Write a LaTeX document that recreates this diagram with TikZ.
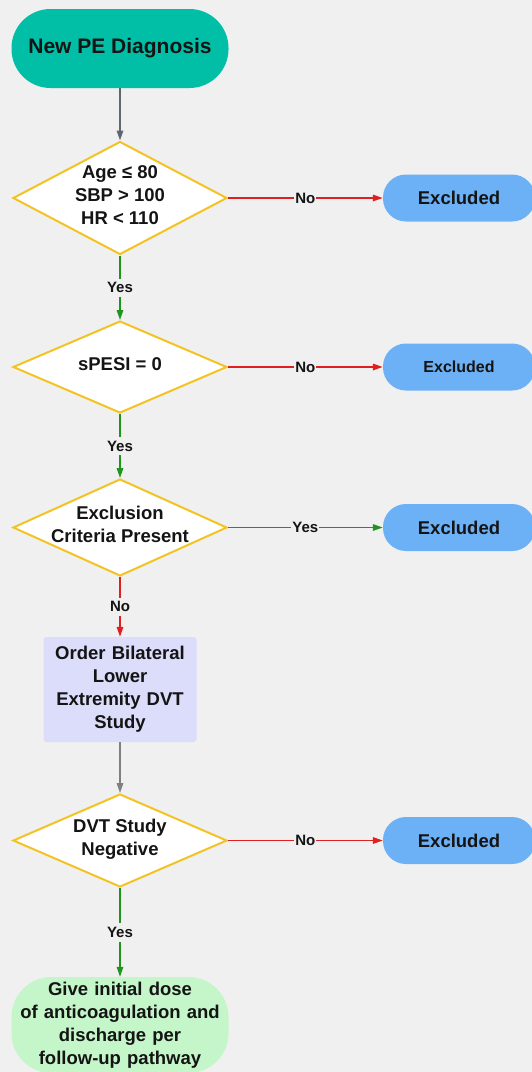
\documentclass[tikz,border=0pt]{standalone}
\usepackage{fontspec}
\setmainfont{Liberation Sans}
\usetikzlibrary{shapes,arrows.meta}
\definecolor{bggray}{HTML}{F0F0F0}
\definecolor{startteal}{HTML}{00BFA6}
\definecolor{exblue}{HTML}{6CB0F5}
\definecolor{diayellow}{HTML}{F3C323}
\definecolor{boxlav}{HTML}{DCDDFA}
\definecolor{endgreen}{HTML}{C5F6CA}
\definecolor{noRed}{HTML}{E02020}
\definecolor{yesGreen}{HTML}{1E961E}
\definecolor{lineGray}{HTML}{5E6670}
\definecolor{textBlack}{HTML}{141414}
\newcommand{\bodyfont}{\fontsize{18.5}{23}\selectfont\bfseries}
\newcommand{\bigbold}{\fontsize{21}{25}\selectfont\bfseries}
\newcommand{\smallbold}{\fontsize{16}{20}\selectfont\bfseries}
\newcommand{\lblfont}{\fontsize{15}{18}\selectfont\bfseries}
\newcommand{\dlines}[1]{\makebox[0pt]{\smash{\raisebox{-3pt}{\begin{tabular}{@{}c@{}}#1\end{tabular}}}}}
\tikzstyle{startstop} = [rectangle, rounded corners=39pt, minimum width=217pt, minimum height=79pt, fill=startteal, text=textBlack, font=\bigbold]
\tikzstyle{decision} = [diamond, minimum width=214pt, inner sep=0pt, draw=diayellow, line width=2pt, fill=white, text=textBlack, font=\bodyfont]
\tikzstyle{excluded} = [rectangle, rounded corners=23pt, minimum width=152pt, minimum height=47pt, fill=exblue, text=textBlack, font=\bodyfont]
\tikzstyle{process} = [rectangle, rounded corners=3pt, minimum width=153pt, minimum height=105pt, text width=141pt, align=center, fill=boxlav, text=textBlack, font=\bodyfont]
\tikzstyle{stopnode} = [rectangle, rounded corners=40pt, minimum width=217pt, minimum height=96pt, text width=205pt, align=center, fill=endgreen, text=textBlack, font=\bodyfont]
\tikzstyle{lbl} = [fill=bggray, inner xsep=1pt, inner ysep=4pt, text=textBlack, font=\lblfont]
\tikzstyle{arrow} = [line width=1.6pt, -{Triangle[length=10pt,width=6.5pt]}]
\begin{document}
\begin{tikzpicture}[x=1pt, y=1pt, node distance=160pt]
        \fill [bggray] (0,0) rectangle (532,-1072);
        \useasboundingbox (0,0) rectangle (532,-1072);
        \node (start) [startstop] at (120,-48.5) {New PE Diagnosis};
        \node (dec1) [decision, minimum height=113pt, below of=start, yshift=10.5pt] {\dlines{Age ≤ 80\\SBP > 100\\HR < 110}};
        \node (ex1) [excluded, right of=dec1, xshift=179pt] {Excluded};
        \node (dec2) [decision, minimum height=92pt, below of=dec1, yshift=-9pt] {\dlines{sPESI = 0}};
        \node (ex2) [excluded, right of=dec2, xshift=179pt, font=\smallbold] {Excluded};
        \node (dec3) [decision, minimum height=97pt, below of=dec2, yshift=-0.5pt] {\dlines{Exclusion\\Criteria Present}};
        \node (ex3) [excluded, right of=dec3, xshift=179pt] {Excluded};
        \node (pro1) [process, below of=dec3, yshift=-2pt] {Order Bilateral\\Lower\\Extremity DVT\\Study};
        \node (dec4) [decision, minimum height=93pt, below of=pro1, yshift=9pt] {\dlines{DVT Study\\Negative}};
        \node (ex4) [excluded, right of=dec4, xshift=179pt] {Excluded};
        \node (end) [stopnode, below of=dec4, yshift=-24.5pt] {Give initial dose\\of anticoagulation and\\discharge per\\follow-up pathway};
        \draw [arrow, lineGray] (start) -- (dec1);
        \draw [arrow, noRed] (dec1) -- node[lbl] {No} (ex1);
        \draw [arrow, yesGreen] (dec1) -- node[lbl] {Yes} (dec2);
        \draw [arrow, noRed] (dec2) -- node[lbl] {No} (ex2);
        \draw [arrow, yesGreen] (dec2) -- node[lbl] {Yes} (dec3);
        \draw [arrow, yesGreen] (dec3) -- node[lbl] {Yes} (ex3);
        \draw [arrow, noRed] (dec3) -- node[lbl] {No} (pro1);
        \draw [arrow, gray] (pro1) -- (dec4);
        \draw [arrow, noRed] (dec4) -- node[lbl] {No} (ex4);
        \draw [arrow, yesGreen] (dec4) -- node[lbl] {Yes} (end);
\end{tikzpicture}
\end{document}
